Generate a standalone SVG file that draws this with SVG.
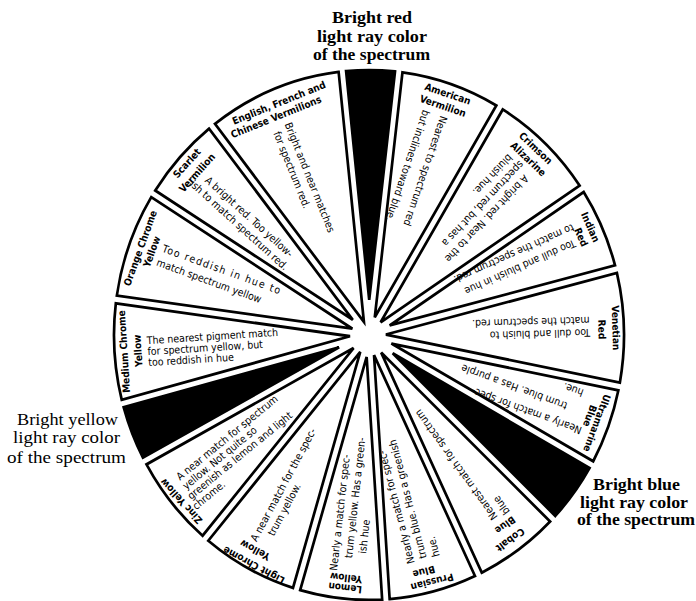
<svg xmlns="http://www.w3.org/2000/svg" width="696" height="601" viewBox="0 0 696 601">
<style>
.w{fill:#fff;stroke:#000;stroke-width:2.7}
.b{fill:#000;stroke:#000;stroke-width:2.7}
.n{font-family:"Liberation Sans Narrow","DejaVu Sans Condensed","Liberation Sans",sans-serif;font-weight:bold;font-size:10px;text-anchor:middle;fill:#000}
.d{font-family:"Liberation Sans Narrow","DejaVu Sans Condensed","Liberation Sans",sans-serif;font-size:10.5px;fill:#000}
.t{font-family:"Liberation Serif","Times New Roman",serif;font-weight:bold;font-size:16px;text-anchor:middle;fill:#000}
.ty{font-family:"Liberation Serif","Times New Roman",serif;font-size:16.5px;text-anchor:middle;fill:#000}
</style>
<rect width="696" height="601" fill="#fff"/>
<g id="title-red"><text class="t" x="372" y="23" textLength="80" lengthAdjust="spacingAndGlyphs">Bright red</text><text class="t" x="372" y="42" textLength="110" lengthAdjust="spacingAndGlyphs">light ray color</text><text class="t" x="371.5" y="60" textLength="117" lengthAdjust="spacingAndGlyphs">of the spectrum</text></g>
<g id="title-yellow"><text class="ty" x="67.5" y="425" textLength="101" lengthAdjust="spacingAndGlyphs">Bright yellow</text><text class="ty" x="66.5" y="443" textLength="107" lengthAdjust="spacingAndGlyphs">light ray color</text><text class="ty" x="66.5" y="463" textLength="119" lengthAdjust="spacingAndGlyphs">of the spectrum</text></g>
<g id="title-blue"><text class="t" x="636.5" y="490" textLength="87" lengthAdjust="spacingAndGlyphs">Bright blue</text><text class="t" x="634" y="508" textLength="108" lengthAdjust="spacingAndGlyphs">light ray color</text><text class="t" x="636" y="525" textLength="118" lengthAdjust="spacingAndGlyphs">of the spectrum</text></g>

<g id="wedge-bright-red"><path class="b" transform="translate(369,335) scale(1,1.039)" d="M0.21,-33.9 L-22.92,-253.97 A255,255 0 0 1 26.02,-253.67 Z"/></g>

<g id="wedge-american-vermilion"><path class="w" transform="translate(369,335) scale(1,1.039)" d="M5.77,-17.01 L33.47,-252.79 A255,255 0 0 1 127.33,-220.93 Z"/>
<g transform="translate(369,336) rotate(18.75)"><text class="n"><tspan x="-3.3" y="-251.1">American</tspan><tspan x="-4" y="-238.1">Vermilion</tspan></text>
<text class="d" transform="rotate(90)"><tspan x="-232" y="3.25">Nearest to spectrum red</tspan><tspan x="-232" y="21.75">but inclines toward blue.</tspan></text></g></g>

<g id="wedge-crimson-alizarine"><path class="w" transform="translate(369,335) scale(1,1.039)" d="M11.64,-12.2 L133.75,-217.11 A255,255 0 0 1 210.56,-143.84 Z"/>
<g transform="translate(369,336) rotate(43.65)"><text class="n"><tspan x="-9" y="-247.5">Crimson</tspan><tspan x="-6.9" y="-234.5">Alizarine</tspan></text>
<text class="d" transform="rotate(90)"><tspan x="-224" y="-0.5">A bright red. Near to the</tspan><tspan x="-231" y="12.5">spectrum red, but has a</tspan><tspan x="-228" y="25.5">bluish hue.</tspan></text></g></g>

<g id="wedge-indian-red"><path class="w" transform="translate(369,335) scale(1,1.039)" d="M20.65,-9.17 L214.7,-137.59 A255,255 0 0 1 246.03,-67.03 Z"/>
<g transform="translate(369,336) rotate(66)"><text class="n"><tspan x="-9.5" y="-243">Indian</tspan><tspan x="-4" y="-230.5">Red</tspan></text>
<text class="d" transform="rotate(90)"><tspan x="-226" y="5">Too dull and bluish in hue</tspan><tspan x="-231" y="20">to match the spectrum red.</tspan></text></g></g>

<g id="wedge-venetian-red"><path class="w" transform="translate(369,335) scale(1,1.039)" d="M16.92,-0.47 L247.89,-59.78 A255,255 0 0 1 250.85,45.85 Z"/>
<g transform="translate(369,336) rotate(88.4)"><text class="n"><tspan x="-1.3" y="-243.5">Venetian</tspan><tspan x="0" y="-229.5">Red</tspan></text>
<text class="d" transform="rotate(90)"><tspan x="-221" y="0.85">Too dull and bluish to</tspan><tspan x="-221" y="13.15">match the spectrum red.</tspan></text></g></g>

<g id="wedge-ultramarine-blue"><path class="w" transform="translate(369,335) scale(1,1.039)" d="M22.37,8.25 L249.39,53.21 A255,255 0 0 1 224.2,121.49 Z"/>
<g transform="translate(369,336) rotate(110.25)"><text class="n"><tspan x="2.8" y="-240.5">Ultramarine</tspan><tspan x="-1.4" y="-231.5">Blue</tspan></text>
<text class="d" transform="rotate(90)"><tspan x="-232" y="-12">Nearly a match for spec-</tspan><tspan x="-210" y="6">trum blue. Has a purple</tspan><tspan x="-220.5" y="24">hue.</tspan></text></g></g>

<g id="wedge-bright-blue"><path class="b" transform="translate(369,335) scale(1,1.039)" d="M23.69,17.59 L220.53,128.03 A255,255 0 0 1 186.32,174.1 Z"/></g>

<g id="wedge-cobalt-blue"><path class="w" transform="translate(369,335) scale(1,1.039)" d="M12.19,16.94 L181.11,179.51 A255,255 0 0 1 112.75,228.72 Z"/>
<g transform="translate(369,336) rotate(144.25)"><text class="n"><tspan x="4.5" y="-244.5">Cobalt</tspan><tspan x="0" y="-229.5">Blue</tspan></text>
<text class="d" transform="rotate(90)"><tspan x="-222" y="-1">Nearest match for spectrum</tspan><tspan x="-225" y="12">blue</tspan></text></g></g>

<g id="wedge-prussian-blue"><path class="w" transform="translate(369,335) scale(1,1.039)" d="M5.04,19.36 L105.97,231.94 A255,255 0 0 1 20.64,254.16 Z"/>
<g transform="translate(369,336) rotate(165.4)"><text class="n"><tspan x="0.9" y="-250.5">Prussian</tspan><tspan x="6.3" y="-238.5">Blue</tspan></text>
<text class="d" transform="rotate(90)"><tspan x="-231" y="-13">Nearly a match for spec-</tspan><tspan x="-229" y="0">trum blue. Has a greenish</tspan><tspan x="-230.6" y="13">hue.</tspan></text></g></g>

<g id="wedge-lemon-yellow"><path class="w" transform="translate(369,335) scale(1,1.039)" d="M-2.35,21.15 L13.16,254.66 A255,255 0 0 1 -68.82,245.54 Z"/>
<g transform="translate(369,336) rotate(186.35)"><text class="n"><tspan x="-4.2" y="-249.5">Lemon</tspan><tspan x="-4" y="-239.5">Yellow</tspan></text>
<text class="d" transform="rotate(90)"><tspan x="-237" y="-5.8">Nearly a match for spec-</tspan><tspan x="-223" y="7.7">trum yellow. Has a green-</tspan><tspan x="-217" y="21.2">ish hue</tspan></text></g></g>

<g id="wedge-light-chrome-yellow"><path class="w" transform="translate(369,335) scale(1,1.039)" d="M-8.74,16.3 L-76.02,243.41 A255,255 0 0 1 -160.7,198 Z"/>
<g transform="translate(369,336) rotate(208.2)"><text class="n"><tspan x="-6.8" y="-253">Light Chrome</tspan><tspan x="-0.8" y="-239">Yellow</tspan></text>
<text class="d" transform="rotate(90)"><tspan x="-235" y="-1.6">A near match for the spec-</tspan><tspan x="-222" y="11">trum yellow.</tspan></text></g></g>

<g id="wedge-zinc-yellow"><path class="w" transform="translate(369,335) scale(1,1.039)" d="M-15.43,12.6 L-166.42,193.2 A255,255 0 0 1 -222.51,124.55 Z"/>
<g transform="translate(369,336) rotate(230.75)"><text class="n" transform="rotate(-3,-8,-246)"><tspan x="-9" y="-246.5">Zinc Yellow</tspan></text>
<text class="d" transform="rotate(90)"><tspan x="-238" y="-7.5">A near match for spectrum</tspan><tspan x="-239" y="3.5">yellow. Not quite so</tspan><tspan x="-241.5" y="14.5">greenish as lemon and light</tspan><tspan x="-244" y="25.5">chrome.</tspan></text></g></g>

<g id="wedge-bright-yellow"><path class="b" transform="translate(369,335) scale(1,1.039)" d="M-29.86,11.88 L-226.07,117.97 A255,255 0 0 1 -245.31,69.62 Z"/></g>

<g id="wedge-medium-chrome-yellow"><path class="w" transform="translate(369,335) scale(1,1.039)" d="M-19.01,1.21 L-247.26,62.37 A255,255 0 0 1 -253.18,-30.45 Z"/>
<g transform="translate(369,336) rotate(266.35)"><text class="n"><tspan x="0" y="-242">Medium Chrome</tspan><tspan x="0" y="-228">Yellow</tspan></text>
<text class="d" transform="rotate(90)"><tspan x="-222" y="-6">The nearest pigment match</tspan><tspan x="-222" y="5">for spectrum yellow, but</tspan><tspan x="-222" y="16">too reddish in hue</tspan></text></g></g>

<g id="wedge-orange-chrome-yellow"><path class="w" transform="translate(369,335) scale(1,1.039)" d="M-16.61,-6.03 L-252.17,-37.88 A255,255 0 0 1 -217.75,-132.71 Z"/>
<g transform="translate(369,336) rotate(290)"><text class="n"><tspan x="4.3" y="-241.5">Orange Chrome</tspan><tspan x="4.9" y="-229.5">Yellow</tspan></text>
<text class="d" transform="rotate(90)"><tspan x="-224" y="-8.5" textLength="125" lengthAdjust="spacing">Too reddish in hue to</tspan><tspan x="-224.5" y="6.5">match spectrum yellow</tspan></text></g></g>

<g id="wedge-scarlet-vermilion"><path class="w" transform="translate(369,335) scale(1,1.039)" d="M-16.19,-14.62 L-213.76,-139.03 A255,255 0 0 1 -159.93,-198.61 Z"/>
<g transform="translate(369,336) rotate(312.1)"><text class="n"><tspan x="6.1" y="-247.5">Scarlet</tspan><tspan x="5.8" y="-233.5">Vermilion</tspan></text>
<text class="d" transform="rotate(90)"><tspan x="-226" y="-4.5">A bright red. Too yellow-</tspan><tspan x="-234.6" y="8.5">ish to match spectrum red.</tspan></text></g></g>

<g id="wedge-english-french-chinese-vermilions"><path class="w" transform="translate(369,335) scale(1,1.039)" d="M-5.09,-12.61 L-154.01,-203.24 A255,255 0 0 1 -30.38,-253.18 Z"/>
<g transform="translate(369,336) rotate(338)"><text class="n"><tspan x="3.9" y="-246.5">English, French and</tspan><tspan x="-4" y="-234.5">Chinese Vermilions</tspan></text>
<text class="d" transform="rotate(90)"><tspan x="-228" y="-0.9">Bright and near matches</tspan><tspan x="-224" y="12.9">for spectrum red.</tspan></text></g></g>
</svg>
